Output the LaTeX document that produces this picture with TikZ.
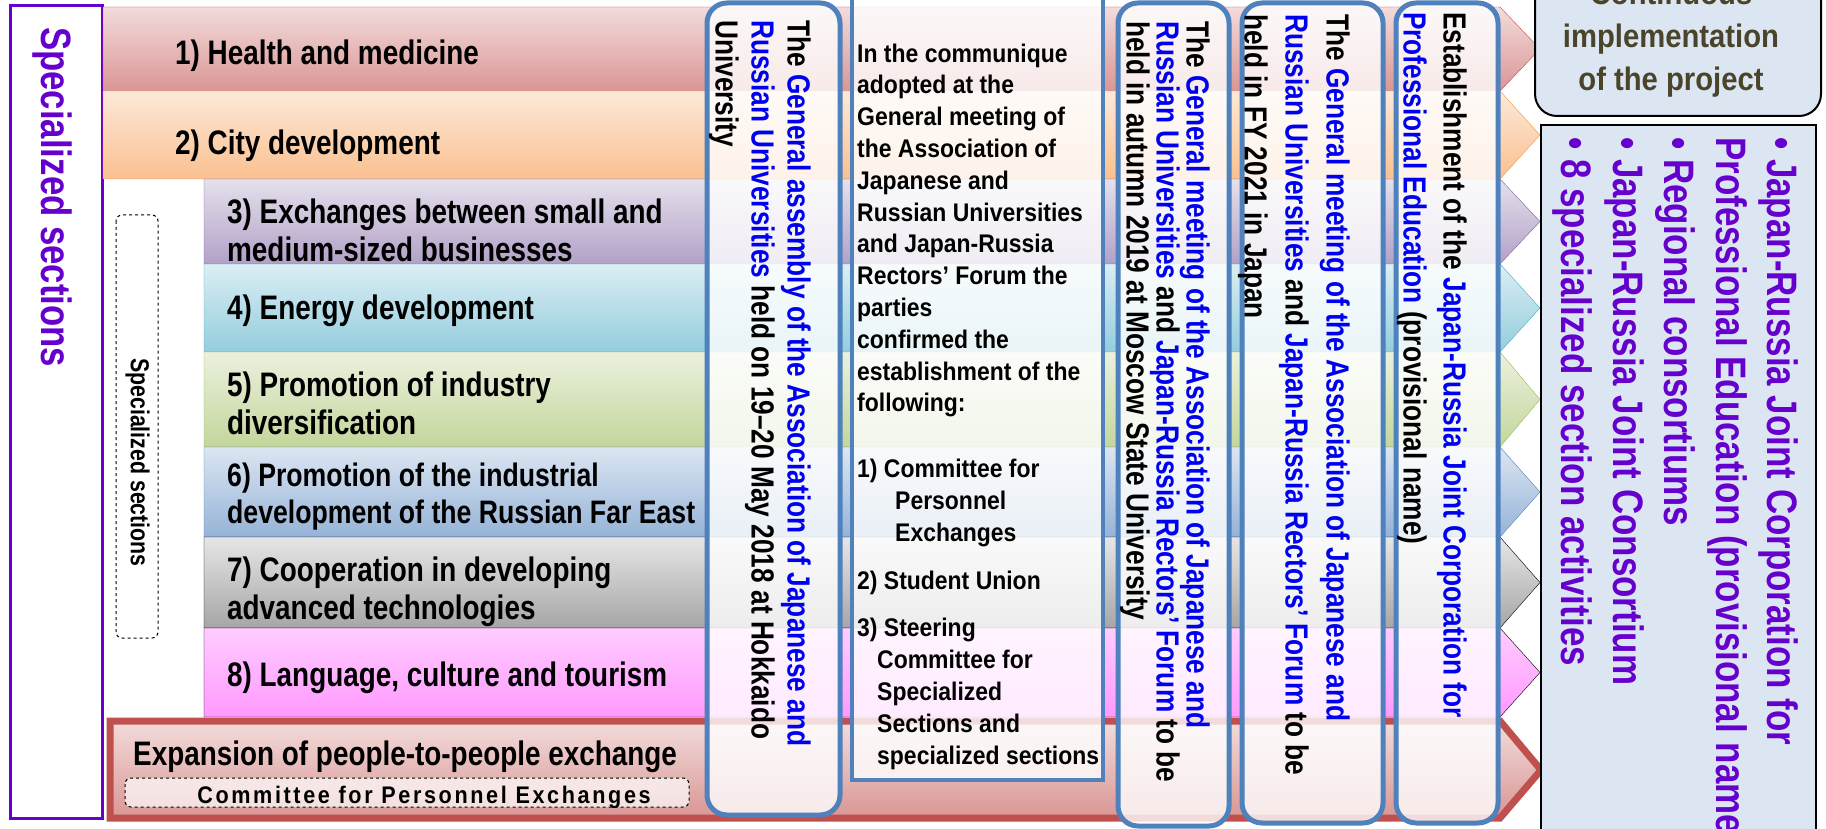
\documentclass[tikz,border=0pt]{standalone}
\usepackage{fontspec}
\setmainfont{Liberation Sans}[FakeStretch=0.82]
\newfontfamily\wideFont{Liberation Sans}[FakeStretch=0.9]
\newfontfamily\spacedFont{Liberation Sans}[FakeStretch=0.9,LetterSpace=11]
\definecolor{secPurple}{HTML}{6600CC}
\definecolor{frameBlue}{HTML}{4F81BD}
\definecolor{textBlue}{HTML}{0000F0}
\definecolor{contText}{HTML}{4A452A}
\definecolor{boxFill}{HTML}{DCE6F2}
\definecolor{expRed}{HTML}{C0504D}
\definecolor{rOneT}{HTML}{F2DCDB}\definecolor{rOneB}{HTML}{D99694}\definecolor{rOneL}{HTML}{C0504D}
\definecolor{rTwoT}{HTML}{FDE9D9}\definecolor{rTwoB}{HTML}{FAC090}\definecolor{rTwoL}{HTML}{F79646}
\definecolor{rThreeT}{HTML}{E5E0EC}\definecolor{rThreeB}{HTML}{B2A1C7}\definecolor{rThreeL}{HTML}{8064A2}
\definecolor{rFourT}{HTML}{DBEEF4}\definecolor{rFourB}{HTML}{93CDDD}\definecolor{rFourL}{HTML}{4BACC6}
\definecolor{rFiveT}{HTML}{EBF1DE}\definecolor{rFiveB}{HTML}{C3D69B}\definecolor{rFiveL}{HTML}{9BBB59}
\definecolor{rSixT}{HTML}{DCE6F2}\definecolor{rSixB}{HTML}{95B3D7}\definecolor{rSixL}{HTML}{4F81BD}
\definecolor{rSevenT}{HTML}{E6E6E6}\definecolor{rSevenB}{HTML}{A6A6A6}\definecolor{rSevenL}{HTML}{000000}
\definecolor{rEightT}{HTML}{FFCCFF}\definecolor{rEightB}{HTML}{FF99FF}\definecolor{rEightL}{HTML}{000000}
\begin{document}
\begin{tikzpicture}[x=1pt,y=-1pt,
  rotText/.style={rotate=-90,anchor=north west,inner sep=0pt,align=left},
  rowText/.style={anchor=west,inner sep=0pt,align=left,font=\fontsize{34}{38}\selectfont\bfseries},
  colBox/.style={draw=frameBlue,line width=5pt,rounded corners=20pt,fill=white,fill opacity=0.8}]
\def\bandEnd{1500}
\def\tipX{1540}
\useasboundingbox (0,0) rectangle (1826,829);
\clip (0,0) rectangle (1826,829);
% left frame
\draw[draw=secPurple,line width=3pt,fill=white] (10,6) rectangle (102,818);
\node[rotText,font=\fontsize{42.4}{50}\selectfont\bfseries,text=secPurple] (secTitle) at (72,27) {Specialized sections};
\draw[dashed,rounded corners=6pt,line width=1pt] (116,215) rectangle (158,638);
\node[rotText,font=\fontsize{26}{30}\selectfont\bfseries] (secLabel) at (150,358) {Specialized sections};
% section bands
\foreach \yt/\yb/\xl/\cn in {7/91/103/One,91/179/103/Two,179/264/204/Three,264/352/204/Four,352/447/204/Five,447/537/204/Six,537/628/204/Seven,628/717/204/Eight}
  \path[draw=r\cn L,top color=r\cn T,bottom color=r\cn B] (\xl,\yt) -- (\bandEnd,\yt) -- (\tipX,{(\yt+\yb)/2}) -- (\bandEnd,\yb) -- (\xl,\yb) -- cycle;
\path[draw=expRed,line width=7pt,top color=rOneT,bottom color=rOneB] (110,721) -- (\bandEnd,721) -- (1541,770) -- (\bandEnd,818) -- (110,818) -- cycle;
\node[rowText] (healthTxt) at (175,56) {1) Health and medicine};
\node[rowText] (cityTxt) at (175,146) {2) City development};
\node[rowText] (smeTxt) at (227,230) {3) Exchanges between small and\\medium-sized businesses};
\node[rowText] (energyTxt) at (227,311) {4) Energy development};
\node[rowText] (diversTxt) at (227,403) {5) Promotion of industry\\diversification};
\node[rowText,font=\fontsize{32.5}{37}\selectfont\bfseries] (farEastTxt) at (227,497) {6) Promotion of the industrial\\development of the Russian Far East};
\node[rowText] (techTxt) at (227,592) {7) Cooperation in developing\\advanced technologies};
\node[rowText] (cultureTxt) at (227,678) {8) Language, culture and tourism};
\node[anchor=base west,inner sep=0pt,font=\fontsize{34}{38}\selectfont\bfseries] (expTxt) at (133,765) {Expansion of people-to-people exchange};
\draw[dashed,rounded corners=6pt,line width=1pt,fill=white,fill opacity=0.7] (125,778) rectangle (689,807);
\node[anchor=base,inner sep=0pt,font=\spacedFont\fontsize{24}{28}\selectfont\bfseries] (cpeTxt) at (424,803) {Committee for Personnel Exchanges};
% event columns
\draw[colBox] (707,3) rectangle (840,815);
\draw[draw=frameBlue,line width=4pt,fill=white,fill opacity=0.8] (852,-20) rectangle (1103,780);
\draw[colBox] (1118,3) rectangle (1229,826);
\draw[colBox] (1242,3) rectangle (1383,823);
\draw[colBox] (1396,3) rectangle (1498,823);
\node[rotText,font=\fontsize{32}{36}\selectfont\bfseries] (assemblyTxt) at (811,20)
  {The \textcolor{textBlue}{General assembly of the Association of Japanese and}\\\textcolor{textBlue}{Russian Universities} held on 19–20 May 2018 at Hokkaido\\University};
\node[anchor=north west,inner sep=0pt,align=left,font=\wideFont\fontsize{25.5}{31.8}\selectfont\bfseries] (commTxt) at (857,43.4)
  {In the communique\\adopted at the\\General meeting of\\the Association of\\Japanese and\\Russian Universities\\and Japan-Russia\\Rectors’ Forum the\\parties\\confirmed the\\establishment of the\\following:\\[34pt]
   1) Committee for\\\hspace*{38pt}Personnel\\\hspace*{38pt}Exchanges\\[16pt]
   2) Student Union\\[16pt]
   3) Steering\\\hspace*{20pt}Committee for\\\hspace*{20pt}Specialized\\\hspace*{20pt}Sections and\\\hspace*{20pt}specialized sections};
\node[rotText,font=\fontsize{32}{30}\selectfont\bfseries] (moscowTxt) at (1210,21)
  {The \textcolor{textBlue}{General meeting of the Association of Japanese and}\\\textcolor{textBlue}{Russian Universities} and \textcolor{textBlue}{Japan-Russia Rectors’ Forum} to be\\held in autumn 2019 at Moscow State University};
\node[rotText,font=\fontsize{32}{41}\selectfont\bfseries] (japanTxt) at (1350,14)
  {The \textcolor{textBlue}{General meeting of the Association of Japanese and}\\\textcolor{textBlue}{Russian Universities} and \textcolor{textBlue}{Japan-Russia Rectors’ Forum} to be\\held in FY 2021 in Japan};
\node[rotText,font=\fontsize{32}{40}\selectfont\bfseries] (corpTxt) at (1467,12)
  {Establishment of the \textcolor{textBlue}{Japan-Russia Joint Corporation for}\\\textcolor{textBlue}{Professional Education} (provisional name)};
% outcome boxes
\draw[line width=2pt,fill=boxFill,rounded corners=22pt] (1535,-40) rectangle (1821,116);
\node[align=center,inner sep=0pt,font=\wideFont\fontsize{32.5}{43}\selectfont\bfseries,text=contText] (contTxt) at (1671,39.5)
  {Continuous\\implementation\\of the project};
\draw[line width=2pt,fill=boxFill] (1541,125) rectangle (1816,860);
\node[rotText,font=\fontsize{42.6}{51.5}\selectfont\bfseries,text=secPurple] (listTxt) at (1799,137)
  {• Japan-Russia Joint Corporation for\\Professional Education (provisional name)\\• Regional consortiums\\• Japan-Russia Joint Consortium\\• 8 specialized section activities};
\end{tikzpicture}
\end{document}
